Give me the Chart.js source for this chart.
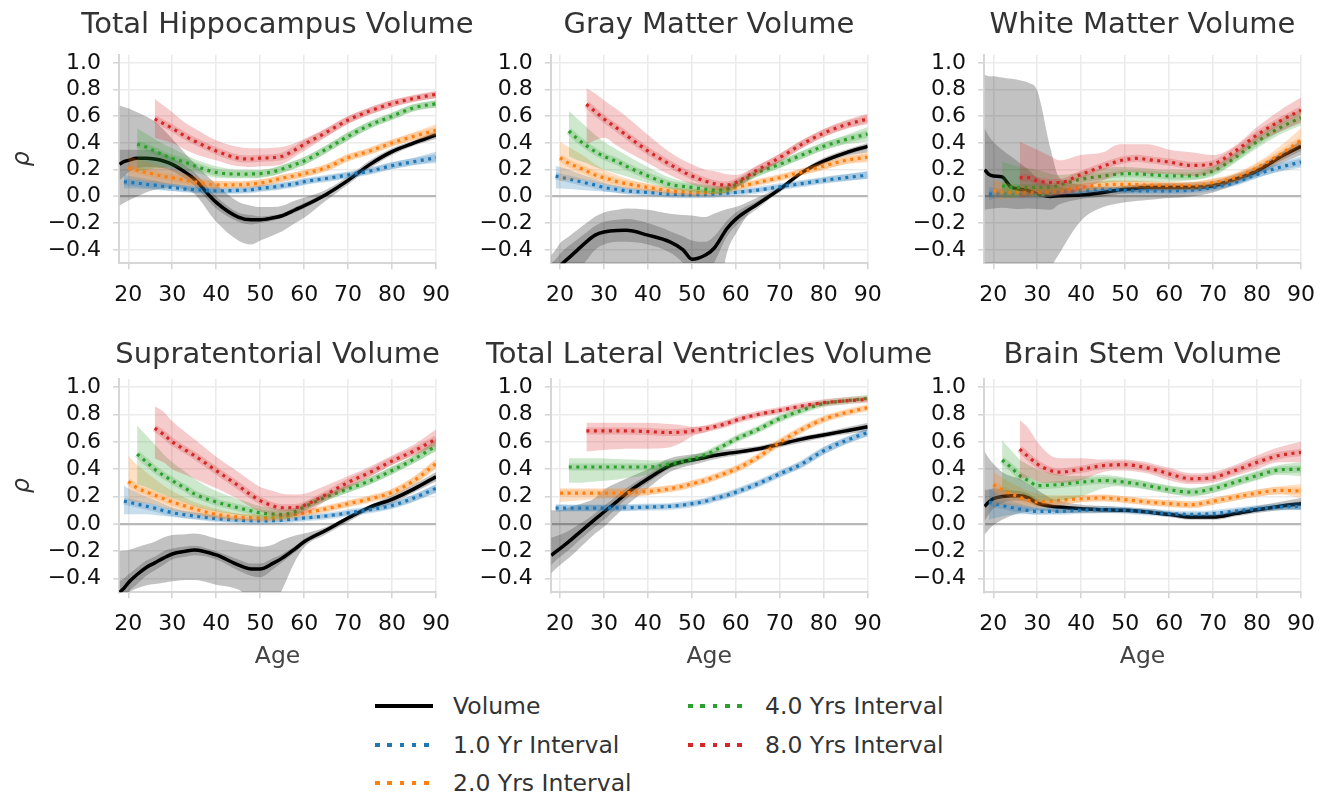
<!DOCTYPE html>
<html>
<head>
<meta charset="utf-8">
<title>Rho by age</title>
<script src="https://cdn.jsdelivr.net/npm/chart.js@4.4.1/dist/chart.umd.min.js"></script>
<style>
  html, body { margin: 0; padding: 0; overflow: hidden; background: #fff; }
  body { position: relative; width: 1328px; height: 794px; font-family: 'DejaVu Sans', sans-serif; }
  canvas { position: absolute; }
  .lgLine { position: absolute; height: 4.5px; }
  .lgText { position: absolute; font-size: 23.5px; color: #333; transform: translateY(-50%); white-space: nowrap; line-height: 1.2; }
</style>
</head>
<body>
<script>
// ========= data (ages shared by every series) =========
const AGES = [18, 19, 20, 22, 24, 26, 28, 30, 33, 35, 40, 45, 48, 50, 53, 55, 58, 60, 65, 70, 75, 80, 85, 90]
const X_TICKS = [20, 30, 40, 50, 60, 70, 80, 90]
const Y_TICKS = [-0.4, -0.2, 0, 0.2, 0.4, 0.6, 0.8, 1.0]
const SERIES_LABELS = ['Volume', '1.0 Yr Interval', '2.0 Yrs Interval', '4.0 Yrs Interval', '8.0 Yrs Interval']

// Total Hippocampus Volume
const hipVol = [.24, .26, .27, .285, .285, .28, .265, .24, .18, .13, -.045, -.155, -.175, -.175, -.16, -.145, -.1, -.07, .015, .12, .24, .335, .40, .46]
const hipVolLo = [-.07, -.05, -.03, 0, .03, .05, .06, .07, .05, .02, -.19, -.33, -.36, -.33, -.29, -.26, -.2, -.16, -.03, .09, .21, .31, .38, .43]
const hipVolHi = [.68, .67, .66, .63, .6, .56, .5, .43, .32, .25, .09, -.04, -.07, -.08, -.08, -.07, -.03, -.01, .05, .15, .27, .36, .42, .49]
const hipVolInLo = [.12, .15, .18, .21, .22, .22, .21, .19, .13, .08, -.09, -.19, -.21, -.2, -.18, -.16, -.12, -.09, 0, .105, .225, .32, .39, .445]
const hipVolInHi = [.35, .35, .35, .35, .35, .34, .32, .29, .23, .18, 0, -.12, -.14, -.15, -.14, -.13, -.08, -.05, .03, .135, .255, .35, .41, .475]
const hip1 = [.11, .105, .1, .09, .085, .075, .067, .055, .05, .042, .045, .05, .06, .07, .08, .095, .11, .134, .16, .19, .23, .26, .29]
const hip1Lo = [.06, .06, .06, .055, .05, .045, .04, .035, .03, .025, .028, .033, .04, .05, .06, .075, .09, .115, .14, .17, .205, .235, .25]
const hip1Hi = [.16, .155, .145, .13, .12, .105, .095, .08, .07, .06, .062, .068, .08, .09, .1, .115, .13, .153, .18, .21, .255, .29, .335]
const hip2 = [.215, .195, .18, .165, .15, .14, .12, .11, .087, .087, .093, .1, .12, .137, .155, .17, .215, .29, .34, .4, .45, .495]
const hip2Lo = [.13, .12, .11, .1, .095, .09, .08, .075, .06, .062, .068, .075, .095, .11, .13, .145, .19, .265, .315, .375, .42, .455]
const hip2Hi = [.3, .28, .26, .24, .22, .2, .17, .15, .115, .112, .118, .125, .145, .162, .18, .195, .24, .315, .365, .425, .48, .54]
const hip4 = [.39, .37, .34, .31, .285, .255, .23, .18, .167, .168, .17, .185, .205, .24, .265, .353, .45, .535, .6, .664, .694]
const hip4Lo = [.19, .2, .21, .215, .22, .2, .18, .14, .135, .135, .14, .155, .175, .21, .235, .325, .42, .51, .575, .64, .665]
const hip4Hi = [.51, .47, .43, .39, .36, .31, .28, .225, .2, .2, .2, .215, .235, .27, .295, .38, .48, .56, .625, .69, .72]
const hip8 = [.58, .545, .51, .45, .415, .34, .286, .28, .286, .29, .3, .35, .39, .478, .572, .64, .694, .734, .764]
const hip8Lo = [.44, .42, .4, .35, .32, .27, .225, .22, .225, .23, .24, .3, .34, .445, .545, .615, .67, .71, .735]
const hip8Hi = [.73, .68, .63, .55, .51, .42, .37, .36, .36, .365, .37, .4, .43, .51, .6, .665, .72, .755, .785]

// Gray Matter Volume
const gmVol = [-.6, -.56, -.52, -.46, -.4, -.34, -.29, -.267, -.255, -.254, -.29, -.34, -.4, -.47, -.44, -.39, -.24, -.17, -.057, .054, .178, .264, .326, .375]
const gmVolLo = [-.9, -.9, -.9, -.9, -.9, -.9, -.9, -.9, -.9, -.9, -.9, -.9, -.9, -.9, -.9, -.9, -.42, -.28, -.05, .03, .16, .24, .3, .33]
const gmVolHi = [-.44, -.4, -.35, -.3, -.25, -.2, -.15, -.12, -.1, -.09, -.1, -.13, -.14, -.143, -.155, -.13, -.095, -.08, -.007, .075, .195, .29, .35, .40]
const gmVolInLo = [-.8, -.8, -.75, -.65, -.56, -.48, -.4, -.36, -.34, -.34, -.36, -.42, -.5, -.6, -.6, -.5, -.3, -.22, -.09, .04, .165, .25, .31, .355]
const gmVolInHi = [-.5, -.47, -.43, -.37, -.32, -.27, -.22, -.19, -.175, -.17, -.2, -.26, -.3, -.33, -.34, -.3, -.18, -.12, -.03, .068, .19, .278, .34, .39]
const gm1 = [.153, .145, .13, .115, .1, .085, .067, .052, .042, .03, .017, .013, .012, .014, .017, .025, .03, .047, .072, .096, .12, .14, .16]
const gm1Lo = [.06, .06, .055, .05, .045, .04, .035, .028, .022, .015, .005, .003, .002, .004, .007, .013, .018, .033, .056, .078, .1, .118, .13]
const gm1Hi = [.23, .22, .2, .175, .15, .13, .105, .08, .065, .046, .03, .025, .023, .025, .028, .037, .044, .062, .09, .115, .142, .165, .19]
const gm2 = [.29, .247, .22, .19, .16, .14, .11, .096, .067, .042, .034, .03, .031, .035, .05, .067, .104, .14, .183, .227, .27, .294]
const gm2Lo = [.115, .12, .125, .12, .105, .09, .07, .06, .04, .022, .016, .013, .014, .018, .032, .048, .085, .12, .16, .2, .24, .255]
const gm2Hi = [.41, .37, .33, .29, .24, .2, .16, .135, .095, .065, .055, .05, .05, .055, .07, .088, .125, .162, .207, .255, .3, .335]
const gm4 = [.49, .43, .38, .335, .3, .26, .227, .153, .09, .075, .067, .055, .047, .054, .09, .178, .24, .31, .375, .425, .467]
const gm4Lo = [.3, .27, .25, .22, .2, .17, .15, .1, .055, .04, .032, .025, .02, .03, .065, .15, .215, .28, .345, .39, .41]
const gm4Hi = [.64, .58, .52, .46, .41, .35, .31, .22, .14, .115, .105, .09, .08, .082, .115, .205, .265, .34, .405, .46, .52]
const gm8 = [.69, .635, .58, .51, .46, .34, .24, .185, .153, .115, .096, .086, .104, .2, .29, .39, .474, .536, .58]
const gm8Lo = [.39, .42, .44, .38, .34, .25, .16, .115, .09, .065, .05, .045, .065, .165, .26, .36, .445, .505, .54]
const gm8Hi = [.81, .77, .72, .65, .6, .46, .33, .27, .24, .2, .19, .165, .16, .235, .32, .42, .505, .57, .62]

// White Matter Volume
const wmVol = [.2, .165, .153, .146, .07, .054, .042, .017, 0, .005, .01, .03, .045, .054, .062, .067, .067, .067, .067, .08, .128, .19, .29, .375]
const wmVolLo = [-.9, -.9, -.9, -.9, -.9, -.9, -.9, -.9, -.55, -.43, -.18, -.08, -.055, -.044, -.033, -.027, -.017, -.012, 0, .03, .09, .153, .24, .31]
const wmVolHi = [.91, .9, .9, .89, .88, .87, .85, .79, .36, .14, .09, .067, .07, .08, .09, .095, .1, .1, .105, .115, .165, .227, .32, .42]
const wmVolInLo = [-.1, -.095, -.09, -.085, -.09, -.095, -.09, -.095, -.1, -.06, -.02, 0, .015, .025, .035, .04, .042, .045, .048, .06, .105, .165, .26, .34]
const wmVolInHi = [.51, .45, .41, .35, .3, .25, .2, .14, .09, .075, .04, .055, .07, .08, .085, .09, .09, .09, .088, .1, .15, .215, .32, .41]
const wm1 = [.017, .02, .018, .015, .013, .012, .01, .02, .03, .042, .054, .05, .045, .042, .042, .042, .042, .047, .067, .104, .165, .216, .257]
const wm1Lo = [-.03, -.02, -.01, -.01, -.01, -.01, -.01, 0, .01, .025, .038, .035, .03, .028, .028, .028, .028, .032, .05, .085, .14, .185, .215]
const wm1Hi = [.07, .065, .055, .045, .04, .035, .032, .04, .05, .06, .07, .066, .06, .057, .057, .057, .057, .062, .085, .125, .19, .25, .3]
const wm2 = [.042, .035, .03, .03, .03, .03, .035, .042, .067, .086, .09, .09, .088, .086, .082, .08, .08, .104, .14, .216, .31, .42]
const wm2Lo = [-.02, -.02, -.015, -.01, -.01, -.01, 0, .01, .035, .055, .06, .06, .058, .056, .052, .05, .05, .075, .11, .18, .26, .36]
const wm2Hi = [.12, .105, .09, .08, .075, .07, .07, .075, .1, .117, .12, .12, .118, .116, .112, .11, .11, .135, .175, .255, .37, .51]
const wm4 = [.08, .067, .067, .067, .067, .067, .085, .128, .153, .165, .17, .168, .165, .158, .153, .153, .19, .29, .41, .51, .59]
const wm4Lo = [-.01, -.01, 0, 0, 0, .01, .03, .08, .1, .11, .11, .11, .11, .11, .11, .12, .15, .25, .36, .46, .53]
const wm4Hi = [.26, .24, .22, .21, .2, .17, .16, .18, .21, .22, .22, .215, .21, .2, .2, .2, .23, .33, .46, .57, .65]
const wm8 = [.14, .14, .117, .104, .104, .165, .227, .26, .276, .285, .276, .265, .257, .232, .244, .338, .46, .56, .646]
const wm8Lo = [-.01, 0, .02, .015, .01, .05, .12, .16, .18, .18, .17, .17, .17, .15, .18, .28, .4, .48, .55]
const wm8Hi = [.41, .38, .35, .3, .27, .31, .33, .385, .39, .39, .39, .37, .35, .33, .31, .38, .52, .64, .74]

// Supratentorial Volume
const supVol = [-.5, -.47, -.43, -.37, -.32, -.285, -.25, -.22, -.2, -.19, -.227, -.3, -.33, -.33, -.287, -.25, -.18, -.13, -.046, .043, .123, .18, .256, .345]
const supVolLo = [-.55, -.52, -.5, -.47, -.45, -.44, -.43, -.42, -.41, -.41, -.444, -.48, -.55, -.6, -.6, -.48, -.27, -.17, -.075, .014, .1, .15, .23, .31]
const supVolHi = [-.2, -.195, -.19, -.17, -.15, -.13, -.1, -.082, -.075, -.07, -.106, -.143, -.16, -.167, -.15, -.118, -.085, -.07, -.022, .06, .14, .21, .29, .38]
const supVolInLo = [-.6, -.55, -.5, -.44, -.38, -.34, -.3, -.26, -.24, -.23, -.26, -.34, -.38, -.39, -.33, -.28, -.205, -.15, -.06, .03, .11, .165, .24, .325]
const supVolInHi = [-.42, -.4, -.37, -.32, -.27, -.24, -.2, -.18, -.165, -.16, -.2, -.26, -.29, -.29, -.25, -.22, -.16, -.11, -.032, .056, .135, .195, .27, .36]
const sup1 = [.167, .16, .145, .13, .115, .097, .082, .066, .058, .039, .027, .023, .022, .024, .027, .037, .043, .058, .08, .104, .135, .19, .26]
const sup1Lo = [.07, .07, .07, .07, .065, .058, .05, .04, .035, .022, .012, .009, .008, .01, .013, .022, .028, .043, .063, .087, .115, .165, .225]
const sup1Hi = [.28, .26, .23, .2, .175, .145, .12, .097, .085, .058, .043, .038, .037, .039, .042, .052, .058, .073, .097, .122, .155, .215, .29]
const sup2 = [.31, .263, .235, .21, .185, .16, .13, .11, .07, .05, .045, .043, .045, .05, .068, .08, .11, .147, .183, .23, .316, .44]
const sup2Lo = [.17, .16, .15, .14, .12, .1, .08, .065, .04, .028, .025, .024, .026, .03, .048, .06, .09, .125, .162, .205, .29, .405]
const sup2Hi = [.5, .43, .38, .33, .28, .24, .19, .16, .11, .075, .066, .062, .064, .07, .088, .1, .13, .17, .205, .255, .345, .475]
const sup4 = [.51, .456, .4, .355, .316, .26, .22, .16, .118, .095, .08, .072, .07, .09, .123, .196, .256, .316, .39, .473, .57]
const sup4Lo = [.29, .27, .24, .215, .19, .155, .13, .09, .065, .05, .04, .035, .035, .06, .095, .17, .23, .29, .365, .445, .53]
const sup4Hi = [.72, .65, .58, .51, .45, .38, .33, .24, .18, .15, .13, .115, .11, .12, .15, .222, .282, .343, .42, .5, .62]
const sup8 = [.7, .655, .6, .54, .5, .39, .28, .21, .17, .13, .118, .12, .135, .215, .304, .377, .46, .534, .62]
const sup8Lo = [.48, .45, .4, .36, .33, .26, .18, .12, .09, .06, .05, .06, .07, .17, .26, .345, .43, .5, .57]
const sup8Hi = [.86, .82, .75, .67, .62, .49, .38, .31, .27, .24, .22, .215, .22, .28, .35, .42, .5, .58, .69]

// Total Lateral Ventricles Volume
const ventVol = [-.23, -.205, -.18, -.13, -.075, -.02, .035, .087, .165, .22, .33, .426, .455, .467, .485, .5, .515, .523, .547, .583, .62, .65, .68, .71]
const ventVolLo = [-.36, -.33, -.3, -.25, -.19, -.13, -.07, -.02, .07, .13, .26, .38, .415, .43, .455, .47, .49, .5, .53, .56, .595, .63, .655, .68]
const ventVolHi = [.1, .1, .1, .12, .14, .16, .19, .25, .3, .33, .4, .48, .5, .51, .52, .53, .545, .55, .57, .605, .64, .67, .705, .74]
const ventVolInLo = [-.3, -.27, -.24, -.19, -.13, -.075, -.02, .03, .12, .18, .3, .405, .44, .455, .475, .49, .505, .513, .537, .573, .61, .64, .67, .695]
const ventVolInHi = [-.1, -.09, -.08, -.05, -.01, .03, .08, .13, .21, .26, .36, .45, .47, .48, .495, .51, .525, .533, .557, .593, .63, .66, .69, .725]
const vent1 = [.116, .116, .116, .116, .116, .116, .116, .117, .118, .123, .128, .138, .147, .165, .184, .21, .232, .293, .366, .438, .535, .608, .668]
const vent1Lo = [.09, .092, .094, .095, .095, .095, .095, .096, .097, .105, .112, .122, .13, .148, .166, .19, .212, .272, .345, .415, .51, .585, .64]
const vent1Hi = [.14, .14, .139, .138, .138, .138, .138, .138, .139, .142, .145, .155, .165, .183, .203, .23, .252, .313, .387, .46, .56, .632, .695]
const vent2 = [.225, .225, .225, .225, .225, .225, .226, .228, .237, .257, .275, .293, .318, .34, .375, .4, .487, .596, .69, .765, .813, .85]
const vent2Lo = [.16, .165, .17, .175, .18, .185, .19, .195, .21, .235, .253, .27, .296, .318, .352, .377, .463, .573, .668, .745, .795, .83]
const vent2Hi = [.26, .26, .26, .26, .26, .26, .26, .26, .265, .28, .297, .315, .34, .362, .398, .423, .51, .62, .712, .785, .83, .87]
const vent4 = [.416, .416, .416, .416, .416, .416, .416, .416, .438, .458, .474, .505, .535, .585, .62, .69, .77, .83, .88, .9, .918]
const vent4Lo = [.3, .3, .305, .31, .315, .325, .335, .36, .41, .435, .452, .485, .515, .565, .6, .67, .75, .812, .865, .888, .905]
const vent4Hi = [.48, .48, .48, .48, .478, .475, .472, .465, .465, .48, .496, .525, .555, .605, .64, .71, .79, .848, .895, .912, .93]
const vent8 = [.68, .68, .68, .68, .68, .675, .668, .672, .68, .695, .709, .735, .758, .8, .83, .862, .886, .9, .91]
const vent8Lo = [.53, .535, .54, .545, .55, .55, .56, .6, .64, .67, .69, .715, .74, .785, .815, .85, .875, .89, .9]
const vent8Hi = [.74, .74, .74, .74, .74, .74, .73, .72, .71, .715, .728, .755, .775, .815, .845, .875, .897, .91, .92]

// Brain Stem Volume
const bsVol = [.128, .16, .184, .2, .205, .205, .19, .152, .13, .123, .111, .104, .1, .099, .093, .087, .076, .07, .05, .05, .075, .104, .128, .148]
const bsVolLo = [-.08, -.04, -.01, .03, .06, .08, .09, .1, .09, .08, .08, .08, .08, .08, .075, .07, .06, .05, .03, .03, .055, .08, .1, .11]
const bsVolHi = [.53, .48, .44, .38, .35, .33, .29, .25, .19, .17, .14, .13, .125, .12, .115, .11, .1, .09, .07, .07, .1, .13, .16, .19]
const bsVolInLo = [.02, .07, .11, .15, .17, .17, .16, .13, .115, .11, .1, .095, .09, .09, .085, .08, .068, .06, .04, .04, .065, .093, .115, .13]
const bsVolInHi = [.25, .25, .26, .25, .245, .24, .22, .18, .148, .138, .123, .114, .11, .108, .102, .096, .085, .08, .06, .06, .086, .116, .142, .165]
const bs1 = [.16, .15, .135, .12, .108, .098, .092, .092, .092, .1, .104, .102, .1, .092, .087, .08, .075, .07, .075, .094, .111, .123, .128]
const bs1Lo = [.03, .04, .055, .065, .07, .07, .07, .072, .075, .085, .09, .088, .086, .078, .073, .066, .061, .056, .06, .078, .095, .105, .1]
const bs1Hi = [.26, .24, .2, .17, .15, .13, .115, .11, .11, .115, .118, .116, .114, .106, .101, .094, .089, .084, .09, .11, .127, .14, .16]
const bs2 = [.288, .25, .22, .195, .172, .16, .165, .172, .184, .19, .183, .177, .167, .16, .152, .148, .14, .165, .196, .225, .245, .24]
const bs2Lo = [.14, .14, .135, .13, .125, .12, .125, .13, .16, .165, .16, .155, .145, .138, .13, .125, .118, .14, .17, .198, .215, .19]
const bs2Hi = [.38, .34, .3, .27, .24, .22, .21, .21, .21, .215, .207, .2, .19, .183, .175, .172, .163, .19, .222, .252, .275, .29]
const bs4 = [.467, .414, .353, .317, .28, .283, .288, .305, .317, .312, .305, .292, .28, .262, .25, .232, .257, .305, .353, .395, .4]
const bs4Lo = [.24, .23, .22, .2, .17, .17, .17, .2, .26, .275, .27, .26, .25, .232, .22, .2, .225, .272, .32, .36, .35]
const bs4Hi = [.61, .54, .47, .43, .4, .37, .36, .35, .36, .35, .34, .325, .31, .292, .28, .263, .288, .338, .386, .43, .45]
const bs8 = [.547, .49, .438, .39, .378, .4, .426, .432, .433, .422, .41, .385, .366, .33, .34, .39, .45, .5, .523]
const bs8Lo = [.33, .34, .31, .3, .3, .32, .38, .39, .39, .38, .37, .34, .32, .29, .3, .35, .4, .45, .45]
const bs8Hi = [.76, .7, .6, .5, .48, .48, .47, .47, .47, .46, .45, .425, .41, .37, .38, .43, .5, .56, .6]

// ========= panels =========
const PANELS = [
    { title: 'Total Hippocampus Volume', vol: [hipVol, hipVolLo, hipVolHi, hipVolInLo, hipVolInHi],
      ints: [[hip1, hip1Lo, hip1Hi], [hip2, hip2Lo, hip2Hi], [hip4, hip4Lo, hip4Hi], [hip8, hip8Lo, hip8Hi]] },
    { title: 'Gray Matter Volume', vol: [gmVol, gmVolLo, gmVolHi, gmVolInLo, gmVolInHi],
      ints: [[gm1, gm1Lo, gm1Hi], [gm2, gm2Lo, gm2Hi], [gm4, gm4Lo, gm4Hi], [gm8, gm8Lo, gm8Hi]] },
    { title: 'White Matter Volume', vol: [wmVol, wmVolLo, wmVolHi, wmVolInLo, wmVolInHi],
      ints: [[wm1, wm1Lo, wm1Hi], [wm2, wm2Lo, wm2Hi], [wm4, wm4Lo, wm4Hi], [wm8, wm8Lo, wm8Hi]] },
    { title: 'Supratentorial Volume', vol: [supVol, supVolLo, supVolHi, supVolInLo, supVolInHi],
      ints: [[sup1, sup1Lo, sup1Hi], [sup2, sup2Lo, sup2Hi], [sup4, sup4Lo, sup4Hi], [sup8, sup8Lo, sup8Hi]] },
    { title: 'Total Lateral Ventricles Volume', vol: [ventVol, ventVolLo, ventVolHi, ventVolInLo, ventVolInHi],
      ints: [[vent1, vent1Lo, vent1Hi], [vent2, vent2Lo, vent2Hi], [vent4, vent4Lo, vent4Hi], [vent8, vent8Lo, vent8Hi]] },
    { title: 'Brain Stem Volume', vol: [bsVol, bsVolLo, bsVolHi, bsVolInLo, bsVolInHi],
      ints: [[bs1, bs1Lo, bs1Hi], [bs2, bs2Lo, bs2Hi], [bs4, bs4Lo, bs4Hi], [bs8, bs8Lo, bs8Hi]] },
]

// ========= style / layout =========
const INT_RGB = ['31,119,180', '255,127,14', '44,160,44', '214,39,40']
const GRID = '#ebebeb'
const SPINE = '#d6d6d6'
const ZERO = '#b8b8b8'
const FONT = 'DejaVu Sans'

// columns: canvas left, plot offset inside canvas, plot width, canvas width
// (canvas is symmetric round the plot so the title centres on it)
const COLS = [
    { left: 0, yw: 119.1, pw: 316.9, w: 555 },
    { left: 431, yw: 119.8, pw: 316.9, w: 556 },
    { left: 865, yw: 119.1, pw: 316.9, w: 555 },
]
// rows: canvas top, canvas height, x-axis box height, title padding
const ROWS = [
    { top: 0, h: 313, xh: 49.8, tTop: 8.2, tBottom: 11.8 },
    { top: 330, h: 346, xh: 83.7, tTop: 8.2, tBottom: 5.9 },
]

Chart.defaults.font.family = FONT

const pad = arr => Array(AGES.length - arr.length).fill(null).concat(arr)
const xy = arr => pad(arr).map((y, i) => ({ x: AGES[i], y }))
const fmtY = v => (v < 0 ? '\u2212' : '') + Math.abs(v).toFixed(1)

function buildDatasets(p) {
    const sets = []
    let order = 200
    const base = { pointRadius: 0, cubicInterpolationMode: 'monotone', clip: 0, spanGaps: false }
    const band = (lo, hi, color) => {
        sets.push({ ...base, data: xy(lo), borderWidth: 0, borderColor: 'transparent', fill: false, order: order-- })
        sets.push({ ...base, data: xy(hi), borderWidth: 0, borderColor: 'transparent', fill: '-1', backgroundColor: color, order: order-- })
    }
    const [v, vLo, vHi, vInLo, vInHi] = p.vol
    band(vLo, vHi, 'rgba(0,0,0,0.24)')
    band(vInLo, vInHi, 'rgba(0,0,0,0.2)')
    sets.push({ ...base, data: xy(v), borderColor: '#000', borderWidth: 3.5, fill: false, order: order-- })
    p.ints.forEach(([m, lo, hi], k) => {
        const rgb = INT_RGB[k]
        band(lo, hi, `rgba(${rgb},0.24)`)
        sets.push({ ...base, data: xy(m), borderColor: `rgba(${rgb},0.22)`, borderWidth: 7, fill: false, order: order-- })
        sets.push({ ...base, data: xy(m), borderColor: `rgb(${rgb})`, borderWidth: 3.2, borderDash: [3, 4.5], fill: false, order: order-- })
    })
    return sets
}

PANELS.forEach((p, idx) => {
    const col = COLS[idx % 3]
    const row = ROWS[Math.floor(idx / 3)]
    const rightW = col.w - col.yw - col.pw
    const canvas = document.createElement('canvas')
    canvas.width = col.w
    canvas.height = row.h
    canvas.style.left = col.left + 'px'
    canvas.style.top = row.top + 'px'
    document.body.appendChild(canvas)

    new Chart(canvas, {
        type: 'line',
        data: { datasets: buildDatasets(p) },
        options: {
            responsive: false,
            animation: false,
            events: [],
            layout: { padding: 0 },
            plugins: {
                legend: { display: false },
                tooltip: { enabled: false },
                title: {
                    display: true,
                    text: p.title,
                    color: '#333',
                    font: { size: 29, weight: 'normal' },
                    padding: { top: row.tTop, bottom: row.tBottom },
                },
            },
            scales: {
                x: {
                    type: 'linear',
                    min: 17.9,
                    max: 90,
                    afterBuildTicks: s => { s.ticks = X_TICKS.map(v => ({ value: v })) },
                    afterFit: s => { s.height = row.xh },
                    ticks: { color: '#111', font: { size: 22 }, padding: 12.5, maxRotation: 0, autoSkip: false },
                    grid: { color: GRID, lineWidth: 1.6, tickLength: 6, tickColor: SPINE, tickWidth: 1.6 },
                    border: { display: true, color: SPINE, width: 2 },
                    title: {
                        display: idx >= 3,
                        text: 'Age',
                        color: '#444',
                        font: { size: 23.5 },
                        padding: { top: 0, bottom: 4.9 },
                    },
                },
                y: {
                    min: -0.5,
                    max: 1.06,
                    afterBuildTicks: s => { s.ticks = Y_TICKS.map(v => ({ value: v })) },
                    afterFit: s => { s.width = col.yw },
                    ticks: { color: '#111', font: { size: 22 }, padding: 12, callback: fmtY },
                    grid: {
                        color: c => (c.tick && c.tick.value === 0 ? ZERO : GRID),
                        lineWidth: c => (c.tick && c.tick.value === 0 ? 2.2 : 1.6),
                        tickLength: 6,
                        tickColor: SPINE,
                        tickWidth: 1.6,
                    },
                    border: { display: true, color: SPINE, width: 2 },
                    title: {
                        display: idx % 3 === 0,
                        text: '\u03c1',
                        color: '#333',
                        font: { size: 24, style: 'italic' },
                        padding: { top: 8.6, bottom: 0 },
                    },
                },
                // empty right-hand box, keeps the plot centred under its title
                spacer: {
                    type: 'linear',
                    position: 'right',
                    min: 0,
                    max: 1,
                    ticks: { display: false },
                    grid: { display: false, drawTicks: false },
                    border: { display: false },
                    afterFit: s => { s.width = rightW },
                },
            },
        },
    })
})

// ========= legend =========
const LEG_POS = [[375, 706], [375, 745], [375, 783], [688, 706], [688, 745]]
SERIES_LABELS.forEach((label, i) => {
    const [x, y] = LEG_POS[i]
    const line = document.createElement('div')
    line.className = 'lgLine'
    line.style.left = x + 'px'
    line.style.top = (y - 2.25) + 'px'
    line.style.width = (i < 3 ? 58 : 55) + 'px'
    if (i === 0) {
        line.style.background = '#000'
    } else {
        const c = `rgb(${INT_RGB[i - 1]})`
        line.style.background = `repeating-linear-gradient(90deg, ${c} 0 4.6px, transparent 4.6px 12.3px)`
    }
    document.body.appendChild(line)

    const text = document.createElement('div')
    text.className = 'lgText'
    text.style.left = (x + (i < 3 ? 78 : 77)) + 'px'
    text.style.top = y + 'px'
    text.textContent = label
    document.body.appendChild(text)
})
</script>
</body>
</html>
